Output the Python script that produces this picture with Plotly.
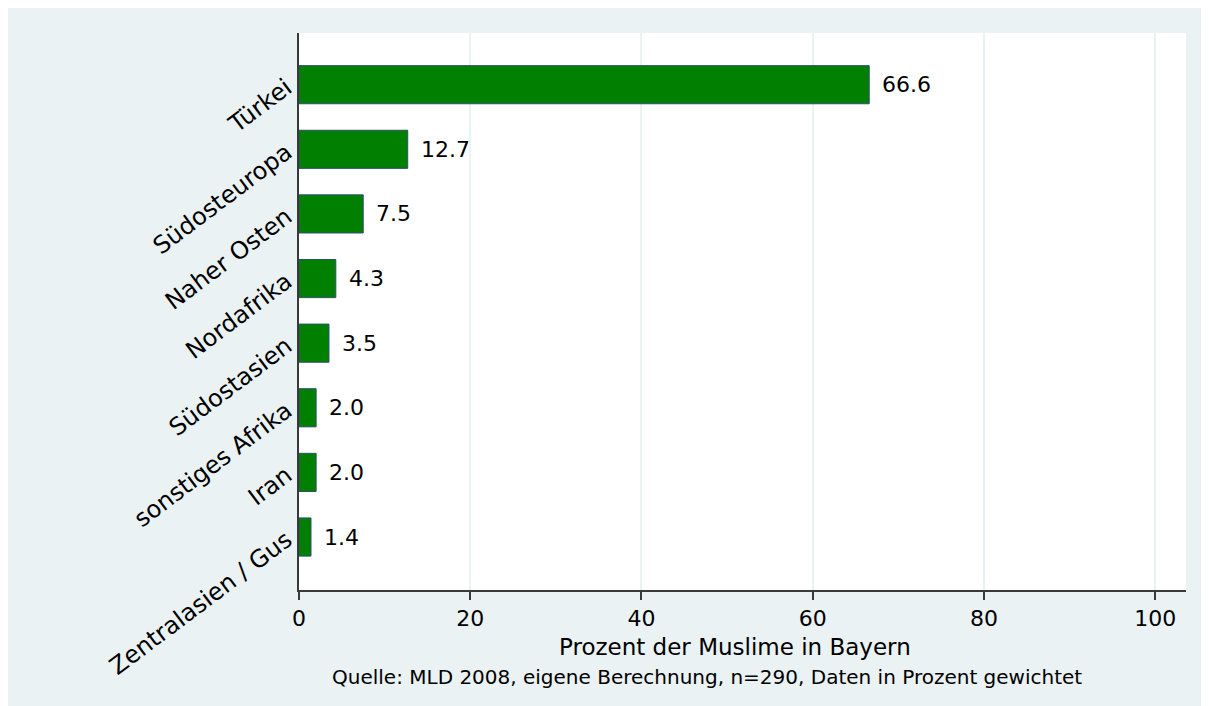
import plotly.graph_objects as go

categories = ["Türkei", "Südosteuropa", "Naher Osten", "Nordafrika",
              "Südostasien", "sonstiges Afrika", "Iran", "Zentralasien / Gus"]
values = [66.6, 12.7, 7.5, 4.3, 3.5, 2.0, 2.0, 1.4]
x_ticks = [0, 20, 40, 60, 80, 100]

FONT = "DejaVu Sans"
BG = "#EAF2F3"

# the page body adds an 8px offset; figure fills the rest of the window
OFF = 8
W, H = 1209 - OFF, 706 - OFF
# plot area in screen px: x 299..1186, y 33..590
L, R, T, B = 299 - OFF, 1209 - 1186, 33 - OFF, 706 - 590
pw, ph = W - L - R, H - T - B


def px_x(px):
    return (px - OFF - L) / pw


def px_y(py):
    return (H - B - (py - OFF)) / ph


fig = go.Figure()
fig.add_trace(go.Bar(
    x=values, y=categories, orientation="h", width=0.59,
    marker=dict(color="#007F00", line=dict(color="#2E4E6F", width=1)),
    hoverinfo="skip",
))

for c, v in zip(categories, values):
    fig.add_annotation(x=v, y=c, xref="x", yref="y", text=f"{v:.1f}",
                       showarrow=False, xanchor="left", yanchor="middle",
                       xshift=11, font=dict(family=FONT, size=22, color="black"))

fig.add_annotation(x=px_x(735), y=px_y(647), xref="paper", yref="paper",
                   text="Prozent der Muslime in Bayern", showarrow=False,
                   xanchor="center", yanchor="middle",
                   font=dict(family=FONT, size=23, color="black"))
fig.add_annotation(x=px_x(707), y=px_y(677), xref="paper", yref="paper",
                   text="Quelle: MLD 2008, eigene Berechnung, n=290, Daten in Prozent gewichtet",
                   showarrow=False, xanchor="center", yanchor="middle",
                   font=dict(family=FONT, size=20, color="black"))

fig.update_layout(
    width=W, height=H,
    margin=dict(l=L, r=R, t=T, b=B, autoexpand=False),
    paper_bgcolor=BG, plot_bgcolor="white",
    showlegend=False,
    font=dict(family=FONT, size=22, color="black"),
)
fig.update_xaxes(
    range=[0, 103.6], tickvals=x_ticks, ticktext=[str(t) for t in x_ticks],
    showgrid=True, gridcolor=BG, gridwidth=2, zeroline=False,
    showline=True, linecolor="#3a3a3a", linewidth=1.5,
    ticks="outside", ticklen=8, tickcolor="#3a3a3a", tickwidth=1.5,
    ticklabelstandoff=0,
    tickfont=dict(family=FONT, size=22, color="black"),
)
fig.update_yaxes(
    type="category", categoryorder="array", categoryarray=categories,
    range=[7.82, -0.8], showgrid=False, zeroline=False,
    showline=True, linecolor="#3a3a3a", linewidth=1.5,
    ticks="", tickangle=-37, ticklabelstandoff=6,
    tickfont=dict(family=FONT, size=24, color="black"),
)

fig.write_html("out.html")
